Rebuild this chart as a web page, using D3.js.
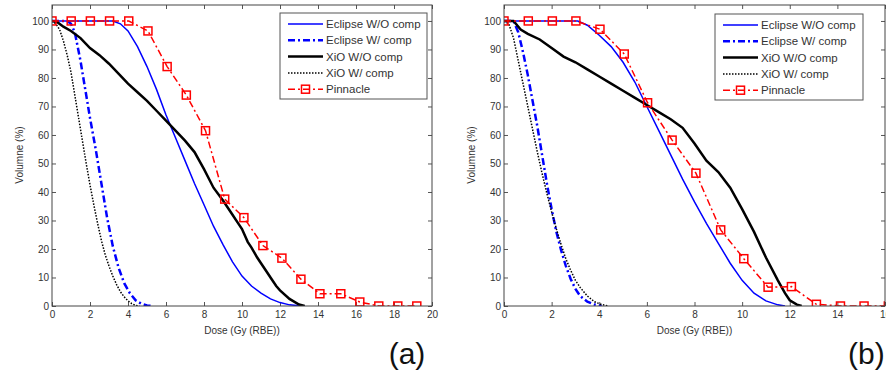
<!DOCTYPE html>
<html>
<head>
<meta charset="utf-8">
<script src="https://cdn.jsdelivr.net/npm/d3@7"></script>
<style>
body { margin: 0; background: #fff; }
text { font-family: Arial, "Liberation Sans", sans-serif; }
</style>
</head>
<body>
<svg id="chart" width="886" height="372"></svg>
<script>
// ticks and names
var doseTicksA = [0, 2, 4, 6, 8, 10, 12, 14, 16, 18, 20];
var doseTicksB = [0, 2, 4, 6, 8, 10, 12, 14, 16];
var volumeTicks = [0, 10, 20, 30, 40, 50, 60, 70, 80, 90, 100];
var seriesNames = ["Eclipse W/O comp", "Eclipse W/ comp", "XiO W/O comp", "XiO W/ comp", "Pinnacle"];

// panel (a) : [dose, volume]
var eclipseWoA = [[0,100],[3.2,100],[3.6,99],[4.0,96.5],[4.5,91],[5.0,84],[5.5,76],[6.0,67],[6.5,59],[7.0,51],[7.5,43],
  [8.0,35.5],[8.5,28],[9.0,21.5],[9.5,15.5],[10.0,10.5],[10.5,7],[11.0,4.5],[11.5,2.5],[12.0,1.2],[12.5,0.4],[13.0,0.1],[13.3,0]];
var eclipseWA = [[0,100],[0.8,100],[1.0,99],[1.2,96],[1.5,86],[1.8,74],[2.0,66],[2.3,55],[2.6,43],[2.9,31],[3.2,21],
  [3.5,13.5],[3.8,8],[4.1,4.5],[4.4,2],[4.7,0.8],[5.0,0.2],[5.3,0]];
var xioWoA = [[0,100],[0.3,99.5],[0.6,98],[1.0,96.5],[1.5,94],[2.0,90.5],[2.5,88],[3.0,85],[3.5,81.5],[4.0,78],[4.5,75],
  [5.0,72],[5.5,68.5],[6.0,65],[6.5,61.5],[7.0,58],[7.5,54],[8.0,48],[8.5,41.5],[9.0,37],[9.5,32],[9.8,29],[10.0,27],
  [10.3,22.5],[10.5,20.5],[10.8,17],[11.0,15],[11.3,12],[11.5,10],[11.8,7],[12.0,5.5],[12.5,2.5],[13.0,0.5],[13.3,0]];
var xioWA = [[0,100],[0.2,99],[0.4,97],[0.6,93],[0.8,88],[1.0,82],[1.2,74],[1.4,66],[1.6,58],[1.8,50],[2.0,42.5],
  [2.2,35.5],[2.4,29],[2.6,23],[2.8,18],[3.0,14],[3.2,10.5],[3.4,7.5],[3.6,5],[3.8,3.2],[4.0,1.8],[4.2,0.8],[4.4,0.2],[4.6,0]];
var pinnacleA = [[0,100],[1.01,100],[2.02,100],[3.03,100],[4.04,100],[5.05,96.5],[6.06,84],[7.07,74],[8.08,61.5],
  [9.09,37.5],[10.1,31],[11.1,21.2],[12.1,16.8],[13.1,9.4],[14.1,4.3],[15.2,4.3],[16.2,1.4],[17.2,0],[18.2,0],[19.2,0]];

// panel (b)
var eclipseWoB = [[0,100],[3.1,100],[3.5,98.5],[4.0,95],[4.5,91],[5.0,85.5],[5.5,78.5],[6.0,70],[6.5,61.5],[7.0,53],
  [7.5,44.5],[8.0,36.5],[8.5,29],[9.0,22],[9.5,15],[10.0,9],[10.5,4.5],[11.0,1.8],[11.5,0.4],[11.8,0]];
var eclipseWB = [[0,100],[0.4,100],[0.6,96],[0.8,89],[1.0,81],[1.2,72],[1.4,63],[1.6,53],[1.8,43],[2.0,34],[2.2,26],
  [2.4,19.5],[2.6,14],[2.8,9.5],[3.0,6],[3.2,3.5],[3.5,1.5],[3.8,0.5],[4.1,0]];
var xioWoB = [[0,100],[0.4,100],[0.7,97],[1.0,95.5],[1.5,93.5],[2.0,90.5],[2.5,87.5],[3.0,85.5],[3.5,83],[4.0,80.5],
  [4.5,78],[5.0,75.5],[5.5,73],[6.0,70.5],[6.5,68],[7.0,65.5],[7.5,62.5],[8.0,57],[8.5,51],[9.0,47],[9.5,41.5],
  [10.0,34],[10.5,26],[11.0,17],[11.5,9],[11.8,4.5],[12.0,2],[12.3,0.5],[12.5,0]];
var xioWB = [[0,100],[0.2,99],[0.4,94],[0.6,86],[0.8,78],[1.0,70],[1.2,62],[1.4,54],[1.6,46.5],[1.8,39.5],[2.0,33],
  [2.2,27],[2.4,21.5],[2.6,16.5],[2.8,12.5],[3.0,9],[3.2,6.5],[3.5,3.5],[3.8,1.5],[4.1,0.5],[4.4,0]];
var pinnacleB = [[0,100],[1.02,100],[2.03,100],[3.02,100],[4.03,97.1],[5.05,88.4],[6.03,71.3],[7.06,58.2],[8.06,46.6],
  [9.1,26.7],[10.07,16.6],[11.09,6.6],[12.07,6.8],[13.12,0.6],[14.13,0],[15.12,0],[16.14,0]];

var yMax = 105.6;

var styles = [
  {color: "#0000ff", width: 1.5, dash: null},
  {color: "#0000ff", width: 2.5, dash: "7,3,2,3"},
  {color: "#000000", width: 2.5, dash: null},
  {color: "#000000", width: 1.5, dash: "1.5,1.5"},
  {color: "#ff0000", width: 1.5, dash: "7,3,2,3"}
];

var svg = d3.select("#chart");

function drawPanel(p) {
  var x = d3.scaleLinear().domain([0, p.xMax]).range([p.left, p.right]);
  var y = d3.scaleLinear().domain([0, yMax]).range([306, 5]);
  var g = svg.append("g");

  g.append("clipPath").attr("id", "clip" + p.id)
    .append("rect").attr("x", p.left).attr("y", 5)
    .attr("width", p.right - p.left).attr("height", 301);

  // axes, ticks inward on four sides
  var axB = d3.axisBottom(x).tickValues(p.ticks).tickSize(-4).tickSizeOuter(0).tickPadding(5);
  var axT = d3.axisTop(x).tickValues(p.ticks).tickSize(-4).tickSizeOuter(0).tickFormat("");
  var axL = d3.axisLeft(y).tickValues(volumeTicks).tickSize(-4).tickSizeOuter(0).tickPadding(3);
  var axR = d3.axisRight(y).tickValues(volumeTicks).tickSize(-4).tickSizeOuter(0).tickFormat("");

  g.append("g").attr("transform", "translate(0,306)").call(axB);
  g.append("g").attr("transform", "translate(0,5)").call(axT);
  g.append("g").attr("transform", "translate(" + p.left + ",0)").call(axL);
  g.append("g").attr("transform", "translate(" + p.right + ",0)").call(axR);
  g.selectAll(".domain").remove();
  g.selectAll(".tick line").attr("stroke", "#555");
  g.selectAll(".tick text").attr("fill", "#333").style("font-size", "10px")
    .style("font-family", "Arial, 'Liberation Sans', sans-serif");

  var line = d3.line().x(function(d){ return x(d[0]); }).y(function(d){ return y(d[1]); });
  var plot = g.append("g").attr("clip-path", "url(#clip" + p.id + ")");

  p.series.forEach(function(s, i) {
    plot.append("path")
      .attr("d", line(s))
      .attr("fill", "none")
      .attr("stroke", styles[i].color)
      .attr("stroke-width", styles[i].width)
      .attr("stroke-dasharray", styles[i].dash);
  });

  // pinnacle markers
  plot.selectAll("rect.mk").data(p.series[4]).enter().append("rect")
    .attr("class", "mk")
    .attr("x", function(d){ return x(d[0]) - 4; })
    .attr("y", function(d){ return y(d[1]) - 4; })
    .attr("width", 8).attr("height", 8)
    .attr("fill", "none").attr("stroke", "#ff0000").attr("stroke-width", 1.5);

  // box
  g.append("rect").attr("x", p.left).attr("y", 5)
    .attr("width", p.right - p.left).attr("height", 301)
    .attr("fill", "none").attr("stroke", "#444").attr("stroke-width", 1);

  // labels
  g.append("text").attr("x", (p.left + p.right) / 2).attr("y", 334)
    .attr("text-anchor", "middle").attr("fill", "#333").style("font-size", "10px")
    .text("Dose (Gy (RBE))");
  g.append("text")
    .attr("transform", "translate(" + (p.left - 29.5) + ",155) rotate(-90)")
    .attr("text-anchor", "middle").attr("fill", "#333").style("font-size", "10px")
    .text("Volumne (%)");

  // legend
  var lg = g.append("g").attr("transform", "translate(" + p.legX + "," + p.legY + ")");
  lg.append("rect").attr("width", p.legW).attr("height", 86)
    .attr("fill", "#fff").attr("stroke", "#555").attr("stroke-width", 1);
  seriesNames.forEach(function(name, i) {
    var ry = 11 + i * 16.3;
    lg.append("line").attr("x1", 8).attr("x2", 43).attr("y1", ry).attr("y2", ry)
      .attr("stroke", styles[i].color).attr("stroke-width", styles[i].width)
      .attr("stroke-dasharray", styles[i].dash);
    if (i == 4) {
      lg.append("rect").attr("x", 21.5).attr("y", ry - 4).attr("width", 8).attr("height", 8)
        .attr("fill", "none").attr("stroke", "#ff0000").attr("stroke-width", 1.5);
    }
    lg.append("text").attr("x", 46).attr("y", ry).attr("dy", "0.35em")
      .attr("fill", "#333").style("font-size", "11.5px").text(name);
  });

  g.append("text").attr("x", p.tagX).attr("y", 364)
    .attr("text-anchor", p.tagAnchor).attr("fill", "#111").style("font-size", "30px")
    .text(p.tag);
}

drawPanel({id: "a", left: 52, right: 432, xMax: 20, ticks: doseTicksA,
  series: [eclipseWoA, eclipseWA, xioWoA, xioWA, pinnacleA],
  legX: 280, legY: 13, legW: 147, tag: "(a)", tagX: 407, tagAnchor: "middle"});

drawPanel({id: "b", left: 504, right: 885, xMax: 16, ticks: doseTicksB,
  series: [eclipseWoB, eclipseWB, xioWoB, xioWB, pinnacleB],
  legX: 715, legY: 14, legW: 148, tag: "(b)", tagX: 848, tagAnchor: "start"});
</script>
</body>
</html>
